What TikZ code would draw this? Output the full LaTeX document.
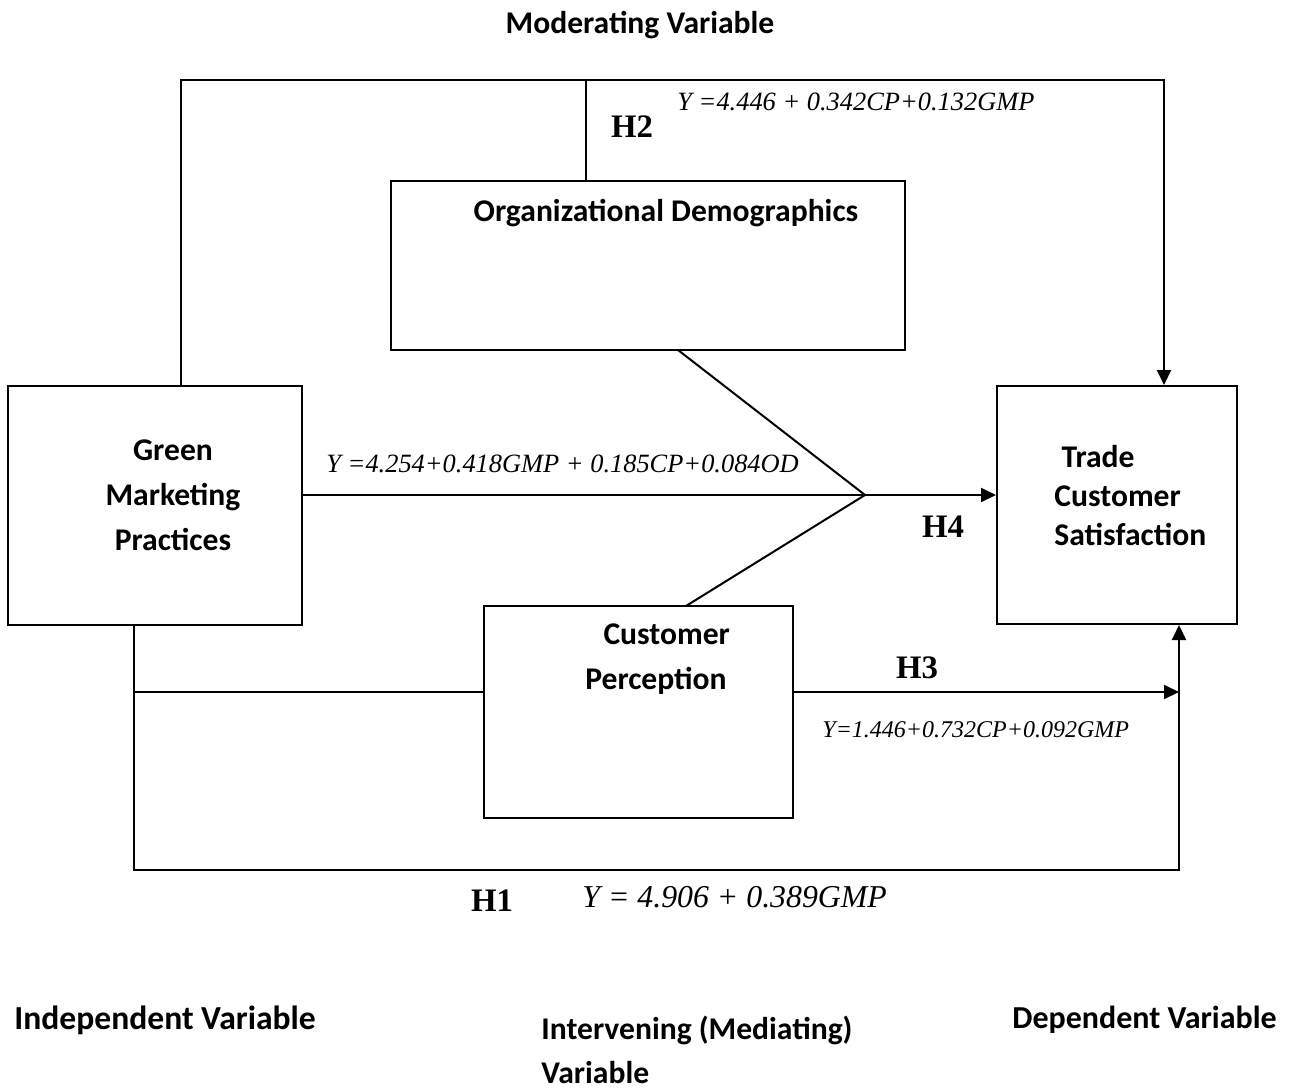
\documentclass[tikz,border=0pt]{standalone}
\usepackage{fontspec}
\setmainfont{Liberation Serif}
\newfontfamily\calib{Carlito}
\usetikzlibrary{arrows.meta}
\begin{document}
\begin{tikzpicture}[x=0.5pt,y=-0.5pt,
  box/.style={draw,line width=1pt,inner sep=0pt,minimum width=#1},
  conn/.style={line width=1pt},
  arr/.style={conn,-{Triangle[length=7.5pt,width=7pt]}},
  lbl/.style={font=\calib\bfseries\fontsize{15.8}{22.5}\selectfont,inner sep=0pt},
  eq/.style={font=\itshape\fontsize{13.2}{15}\selectfont,inner sep=0pt},
  hyp/.style={font=\bfseries\fontsize{16.4}{18}\selectfont,inner sep=0pt}]
\useasboundingbox (0,0) rectangle (1295,1091);

% variable boxes
\node (gmp) [box=147pt,minimum height=119.5pt] at (155,505.5) {};
\node (tcs) [box=120pt,minimum height=119pt] at (1117,505) {};
\node (od)  [box=257pt,minimum height=84.5pt] at (648,265.5) {};
\node (cp)  [box=154.5pt,minimum height=106pt] at (638.5,712) {};

% box captions
\node (gmpt) [lbl,align=center] at (173,495) {Green\\Marketing\\Practices};
\node (tcst) [lbl,align=left,anchor=west,font=\calib\bfseries\fontsize{15.8}{19.5}\selectfont] at (1054,496) {\ Trade\\Customer\\Satisfaction};
\node (odt)  [lbl] at (666,213) {Organizational Demographics};
\node (cpt)  [lbl,align=center] at (656,659) {\ \ \ Customer\\Perception};

% routing points
\coordinate (topL) at (181,80);
\coordinate (topR) at (1164,80);
\coordinate (odup) at (586,80);
\coordinate (j) at (865,495);
\coordinate (odlo) at (678,350);
\coordinate (cphi) at (686,606);
\coordinate (bl) at (134,870);
\coordinate (br) at (1179,870);
\coordinate (h3) at (1179,692);

% H2 path over the top
\draw[arr] (topL |- gmp.north) -- (topL) -- (topR) -- (topR |- tcs.north);
\draw[conn] (odup) -- (odup |- od.north);

% H4 path through the junction
\draw[conn] (gmp.east |- j) -- (j);
\draw[arr] (j) -- (tcs.west |- j);
\draw[conn] (odlo) -- (j);
\draw[conn] (cphi) -- (j);

% H1 path along the bottom and H3 through the mediator
\draw[arr] (bl |- gmp.south) -- (bl) -- (br) -- (br |- tcs.south);
\draw[conn] (bl |- h3) -- (cp.west |- h3);
\draw[arr] (cp.east |- h3) -- (h3);

% equations and hypothesis labels
\node (eq2) [eq,anchor=west] at (677,102) {Y =4.446 + 0.342CP+0.132GMP};
\node (eq4) [eq,anchor=west] at (326,464) {Y =4.254+0.418GMP + 0.185CP+0.084OD};
\node (eq3) [eq,anchor=west,font=\itshape\fontsize{12}{14}\selectfont] at (822,730) {Y=1.446+0.732CP+0.092GMP};
\node (eq1) [eq,anchor=west,font=\itshape\fontsize{15.9}{18}\selectfont] at (582,897) {Y = 4.906 + 0.389GMP};
\node (h2t) [hyp] at (632,127) {H2};
\node (h4t) [hyp] at (943,527) {H4};
\node (h3t) [hyp] at (917,668) {H3};
\node (h1t) [hyp] at (492,901) {H1};

% column headings
\node (modv) [lbl] at (640,25) {Moderating Variable};
\node (indv) [lbl,anchor=west,font=\calib\bfseries\fontsize{16.8}{20}\selectfont] at (14,1020) {Independent Variable};
\node (medv) [lbl,anchor=north west,align=left,font=\calib\bfseries\fontsize{15.8}{22}\selectfont] at (541,1016) {Intervening (Mediating)\\Variable};
\node (depv) [lbl,anchor=west,font=\calib\bfseries\fontsize{16}{20}\selectfont] at (1012,1020) {Dependent Variable};
\end{tikzpicture}
\end{document}
